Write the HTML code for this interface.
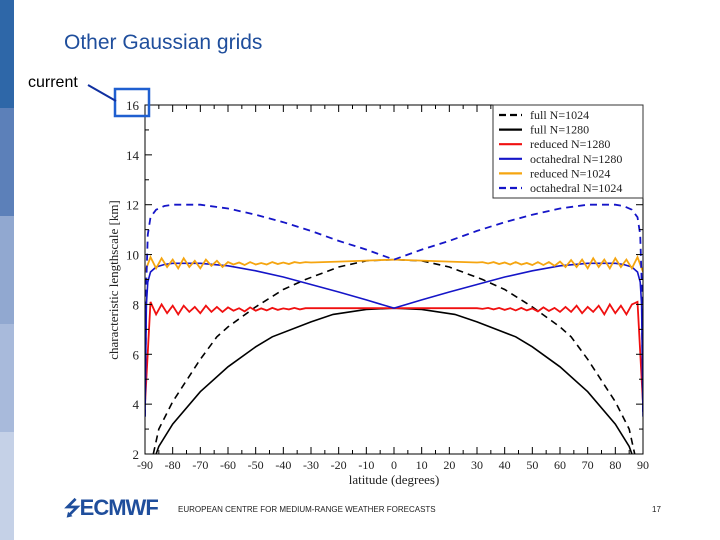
<!DOCTYPE html>
<html><head><meta charset="utf-8"><style>
body{margin:0;width:720px;height:540px;background:#fff;position:relative;overflow:hidden;font-family:"Liberation Sans",sans-serif}
.sb{position:absolute;left:0;width:14px}
</style></head><body>
<div class="sb" style="top:0;height:108px;background:#2e67a8"></div>
<div class="sb" style="top:108px;height:108px;background:#5c80b9"></div>
<div class="sb" style="top:216px;height:108px;background:#91a8d0"></div>
<div class="sb" style="top:324px;height:108px;background:#a8badb"></div>
<div class="sb" style="top:432px;height:108px;background:#c5d1e7"></div>
<div style="position:absolute;left:64px;top:31px;font-size:21px;color:#1f4e9c">Other Gaussian grids</div>
<div style="position:absolute;left:28px;top:74px;font-size:16px;color:#000">current</div>
<svg id="chart" width="720" height="540" style="position:absolute;left:0;top:0" font-family="Liberation Serif, serif"></svg>
<div style="position:absolute;left:64px;top:494px;font-size:22px;font-weight:bold;color:#1f4e9c;letter-spacing:-1px"><span style="font-size:20px">&#x2B4D;</span>ECMWF</div>
<div style="position:absolute;left:178px;top:505px;font-size:8px;color:#222">EUROPEAN CENTRE FOR MEDIUM-RANGE WEATHER FORECASTS</div>
<div style="position:absolute;left:652px;top:505px;font-size:8px;color:#222">17</div>
<script>
const xTicks=[-90,-80,-70,-60,-50,-40,-30,-20,-10,0,10,20,30,40,50,60,70,80,90];
const yTicks=[2,4,6,8,10,12,14,16];
const latS=[-87,-85,-80,-70,-64,-60,-50,-40,-32,-20,-10,0,10,20,32,40,50,60,64,70,80,85,87];
const fullN1024=[2.0,3.0,4.1,5.8,6.7,7.1,7.9,8.6,9.0,9.5,9.75,9.8,9.75,9.5,9.0,8.6,7.9,7.1,6.7,5.8,4.1,3.0,2.0];
const latF=[-86,-85,-80,-70,-60,-50,-44,-30,-22,-10,0,10,22,30,44,50,60,70,80,85,86];
const fullN1280=[2.0,2.3,3.2,4.5,5.5,6.3,6.7,7.3,7.6,7.8,7.85,7.8,7.6,7.3,6.7,6.3,5.5,4.5,3.2,2.3,2.0];
const latO=[-90,-89.5,-89,-88,-86,-83,-80,-70,-60,-50,-40,-30,-20,-10,0,10,20,30,40,50,60,70,80,83,86,88,89,89.5,90];
const octaN1024=[3.5,9.0,10.8,11.5,11.8,11.95,12.0,12.0,11.85,11.6,11.3,10.95,10.55,10.2,9.8,10.2,10.55,10.95,11.3,11.6,11.85,12.0,12.0,11.95,11.8,11.5,10.8,9.0,3.5];
const octaN1280=[3.5,8.0,8.9,9.3,9.5,9.6,9.65,9.65,9.55,9.35,9.1,8.8,8.5,8.18,7.85,8.18,8.5,8.8,9.1,9.35,9.55,9.65,9.65,9.6,9.5,9.3,8.9,8.0,3.5];
const latR=[-90,-88,-86,-84,-82,-80,-78,-76,-74,-72,-70,-68,-66,-64,-62,-60,-58,-56,-54,-52,-50,-48,-46,-44,-42,-40,-38,-36,-34,-32,-30,-20,-10,0,10,20,30,32,34,36,38,40,42,44,46,48,50,52,54,56,58,60,62,64,66,68,70,72,74,76,78,80,82,84,86,88,90];
const reducedN1280=[4.0,8.1,7.6,8.0,7.65,7.95,7.6,7.95,7.7,7.9,7.65,7.95,7.7,7.9,7.7,7.88,7.75,7.85,7.72,7.88,7.75,7.84,7.76,7.86,7.78,7.84,7.8,7.86,7.8,7.85,7.85,7.85,7.85,7.85,7.85,7.85,7.85,7.82,7.86,7.8,7.86,7.78,7.85,7.76,7.86,7.76,7.84,7.72,7.88,7.74,7.86,7.7,7.9,7.7,7.95,7.65,7.9,7.7,7.95,7.6,8.0,7.65,7.95,7.6,8.0,8.1,4.0];
const reducedN1024=[9.3,9.9,9.45,9.85,9.5,9.8,9.45,9.85,9.5,9.75,9.45,9.8,9.55,9.75,9.5,9.7,9.6,9.68,9.58,9.7,9.6,9.66,9.6,9.7,9.62,9.68,9.62,9.7,9.66,9.7,9.68,9.72,9.76,9.8,9.76,9.72,9.68,9.7,9.64,9.7,9.62,9.68,9.6,9.7,9.6,9.66,9.58,9.7,9.58,9.7,9.55,9.72,9.5,9.78,9.5,9.8,9.45,9.85,9.5,9.8,9.45,9.85,9.5,9.8,9.45,9.9,9.3];
const legendLabels=["full N=1024","full N=1280","reduced N=1280","octahedral N=1280","reduced N=1024","octahedral N=1024"];
const NS='http://www.w3.org/2000/svg',svg=document.getElementById('chart');
const X0=145,X1=643,Y0=454,Y1=105;
const sx=v=>X0+(v+90)/180*(X1-X0), sy=v=>Y0-(v-2)/14*(Y0-Y1);
function mk(t,a,p){const e=document.createElementNS(NS,t);for(const k in a)e.setAttribute(k,a[k]);(p||svg).appendChild(e);return e;}
const clip=mk('clipPath',{id:'cp'});mk('rect',{x:X0,y:Y1,width:X1-X0,height:Y0-Y1},clip);
const series=[[latS,fullN1024,'#000','7,5',1.6,'full-n1024-line'],[latF,fullN1280,'#000','',1.6,'full-n1280-line'],[latR,reducedN1280,'#f01010','',1.8,'reduced-n1280-line'],[latO,octaN1280,'#1515c8','',1.6,'octahedral-n1280-line'],[latR,reducedN1024,'#f5a510','',1.8,'reduced-n1024-line'],[latO,octaN1024,'#1515c8','7,5',1.8,'octahedral-n1024-line']];
const dashes={};
series.forEach(s=>{const d=s[0].map((x,i)=>(i?'L':'M')+sx(x).toFixed(1)+','+sy(s[1][i]).toFixed(1)).join('');
const p=mk('path',{d:d,fill:'none',stroke:s[2],'stroke-width':s[4],'stroke-dasharray':s[3],'clip-path':'url(#cp)'});

});
const fr=mk('rect',{x:X0,y:Y1,width:X1-X0,height:Y0-Y1,fill:'none',stroke:'#000','stroke-width':1});


xTicks.forEach(t=>{mk('line',{x1:sx(t),x2:sx(t),y1:Y0,y2:Y0-7,stroke:'#000'});mk('line',{x1:sx(t),x2:sx(t),y1:Y1,y2:Y1+7,stroke:'#000'});
if(t<90){mk('line',{x1:sx(t+5),x2:sx(t+5),y1:Y0,y2:Y0-4,stroke:'#000'});mk('line',{x1:sx(t+5),x2:sx(t+5),y1:Y1,y2:Y1+4,stroke:'#000'});}
const l=mk('text',{x:sx(t),y:469,'font-size':12,'text-anchor':'middle',fill:'#222'});l.textContent=t;

});
yTicks.forEach(t=>{mk('line',{x1:X0,x2:X0+7,y1:sy(t),y2:sy(t),stroke:'#000'});mk('line',{x1:X1,x2:X1-7,y1:sy(t),y2:sy(t),stroke:'#000'});
if(t<16){mk('line',{x1:X0,x2:X0+4,y1:sy(t+1),y2:sy(t+1),stroke:'#000'});mk('line',{x1:X1,x2:X1-4,y1:sy(t+1),y2:sy(t+1),stroke:'#000'});}
const l=mk('text',{x:139,y:sy(t)+5,'font-size':13,'text-anchor':'end',fill:'#222'});l.textContent=t;

});
const xl=mk('text',{x:394,y:484,'font-size':13,'text-anchor':'middle',fill:'#222'});xl.textContent='latitude (degrees)';


const yl=mk('text',{x:0,y:0,'font-size':13,'text-anchor':'middle',fill:'#222',transform:'translate(118,280) rotate(-90)'});yl.textContent='characteristic lengthscale [km]';


const lg=mk('g',{});


mk('rect',{x:493,y:105,width:150,height:93,fill:'#fff',stroke:'#333'},lg);
legendLabels.forEach((n,i)=>{const s=series[i],y=115+i*14.6;
mk('line',{x1:499,x2:522,y1:y,y2:y,stroke:s[2],'stroke-width':2.2,'stroke-dasharray':s[3]?'7,4':''},lg);
const t=mk('text',{x:530,y:y+4,'font-size':12,fill:'#222'},lg);t.textContent=n;

});
const hb=mk('rect',{x:115,y:89,width:34,height:27,fill:'none',stroke:'#1f5fd0','stroke-width':2.5});


const cl=mk('line',{x1:88,y1:85,x2:116,y2:101,stroke:'#1030a0','stroke-width':2});


</script>
</body></html>
